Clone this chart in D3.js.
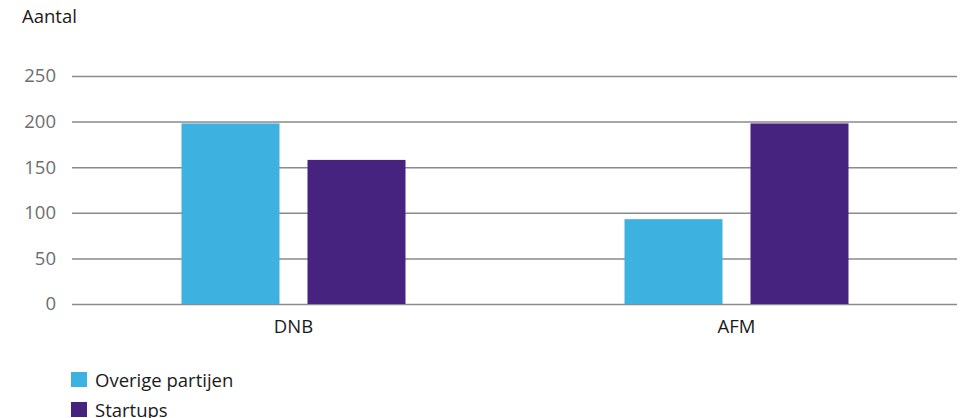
<!DOCTYPE html>
<html><head><meta charset="utf-8">
<script src="https://cdn.jsdelivr.net/npm/d3@7/dist/d3.min.js"></script>
<style>
html,body{margin:0;padding:0;background:#fff;}
svg{display:block;font-family:"Open Sans","Noto Sans",sans-serif;}
</style></head>
<body>
<svg id="chart" width="965" height="418"></svg>
<script>
const categories = ["DNB", "AFM"];
const seriesNames = ["Overige partijen", "Startups"];
const overige = [198, 93];
const startups = [158, 198];
const yTicks = [0, 50, 100, 150, 200, 250];
const colors = ["#3db1e0", "#472380"];

const FS = 18.5;
const svg = d3.select("#chart");
const x0 = d3.scaleBand().domain(categories).range([72, 958]);
const y = d3.scaleLinear().domain([0, 250]).range([304, 76]);
const barW = 98, gap = 28;
const x1 = d3.scaleOrdinal().domain(seriesNames).range([0, barW + gap]);

// y label
svg.append("text").attr("x", 22).attr("y", 23).attr("font-size", FS).attr("fill", "#1a1a1a").text("Aantal");

// grid + y axis
const yAxis = d3.axisLeft(y).tickValues(yTicks).tickSize(-(957 - 72)).tickPadding(16);
const gy = svg.append("g").attr("transform", "translate(72,0)").call(yAxis);
gy.select(".domain").remove();
gy.selectAll(".tick line").attr("stroke", "#8a8a8a").attr("stroke-width", 1.5);
gy.selectAll(".tick text").attr("font-size", FS).attr("fill", "#6e6e6e").attr("font-family", "'Open Sans','Noto Sans',sans-serif");

const data = categories.map((c, i) => ({cat: c, vals: [overige[i], startups[i]]}));
const groupW = barW * 2 + gap;
const off = (x0.bandwidth() - groupW) / 2;

const g = svg.selectAll(".grp").data(data).enter().append("g")
  .attr("transform", d => `translate(${x0(d.cat) + off},0)`);
g.selectAll("rect").data(d => d.vals.map((v, j) => ({v, s: seriesNames[j], j})))
  .enter().append("rect")
  .attr("x", d => x1(d.s)).attr("width", barW)
  .attr("y", d => y(d.v)).attr("height", d => y(0) - y(d.v))
  .attr("fill", d => colors[d.j]);

// x axis labels
const xAxis = d3.axisBottom(x0).tickSize(0).tickPadding(16);
const gx = svg.append("g").attr("transform", "translate(0,304)").call(xAxis);
gx.select(".domain").remove();
gx.selectAll(".tick text").attr("font-size", FS).attr("fill", "#1a1a1a").attr("font-family", "'Open Sans','Noto Sans',sans-serif");

// legend
const leg = svg.selectAll(".leg").data(seriesNames).enter().append("g")
  .attr("transform", (d, i) => `translate(71,${372 + i * 30})`);
leg.append("rect").attr("width", 16).attr("height", 15).attr("fill", (d, i) => colors[i]);
leg.append("text").attr("x", 24).attr("y", 15).attr("font-size", FS).attr("fill", "#1a1a1a").text(d => d);
</script>
</body></html>
